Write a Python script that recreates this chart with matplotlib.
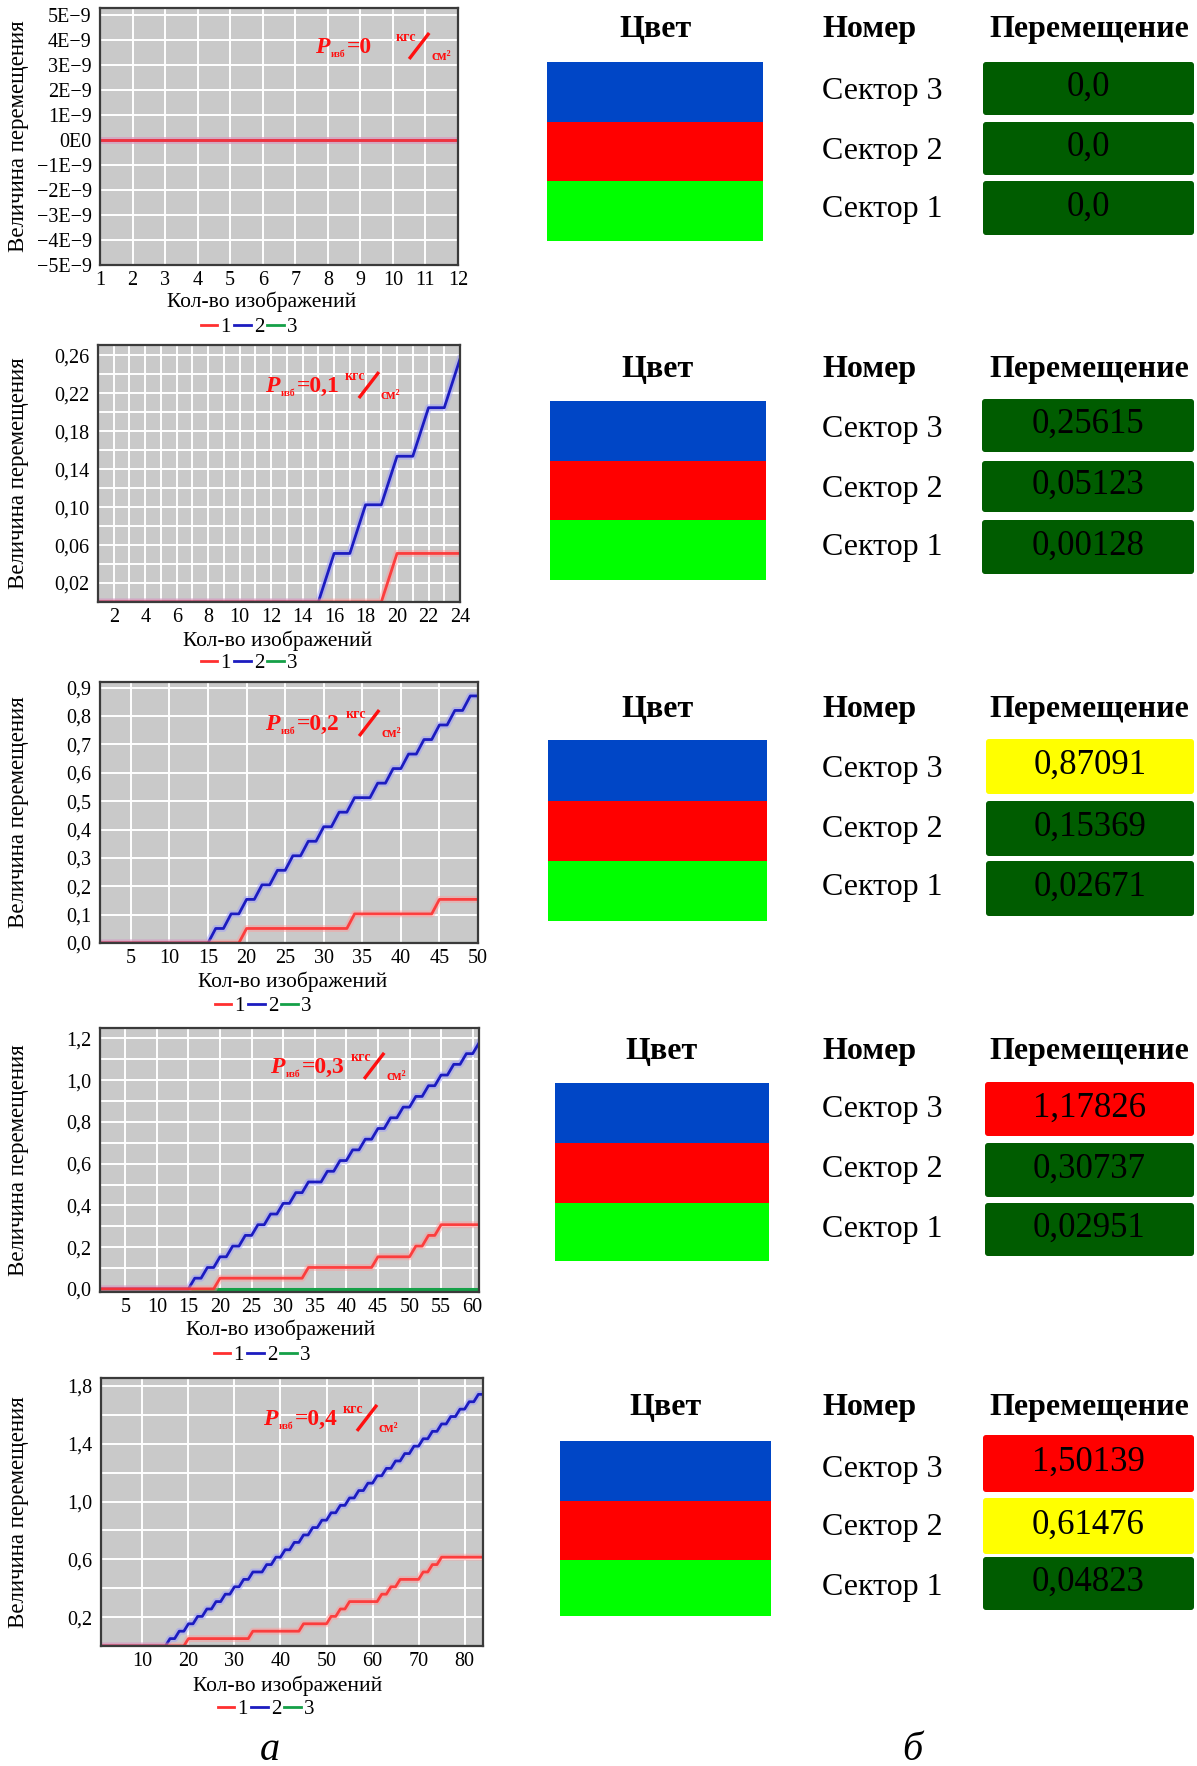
import matplotlib
matplotlib.use("Agg")
import matplotlib.pyplot as plt
import matplotlib.transforms as mtransforms
from matplotlib.lines import Line2D
from matplotlib.patches import Rectangle, FancyBboxPatch
from matplotlib.ticker import FixedLocator

plt.rcParams['font.family'] = ['Liberation Serif', 'DejaVu Serif']

# ---------------------------------------------------------------- data
pressures = ["0", "0,1", "0,2", "0,3", "0,4"]
legend_labels = ["1", "2", "3"]

# P = 0 kgf/cm2, 12 images
red_p0 = [0, 0, 0, 0, 0, 0, 0, 0, 0, 0, 0, 0]
blue_p0 = [0, 0, 0, 0, 0, 0, 0, 0, 0, 0, 0, 0]
green_p0 = [0, 0, 0, 0, 0, 0, 0, 0, 0, 0, 0, 0]

# P = 0.1 kgf/cm2, 24 images
red_p1 = [
    0, 0, 0, 0, 0, 0, 0, 0, 0, 0,
    0, 0, 0, 0, 0, 0, 0, 0, 0, 0.0512,
    0.0512, 0.0512, 0.0512, 0.0512,
]
blue_p1 = [
    0, 0, 0, 0, 0, 0, 0, 0, 0, 0,
    0, 0, 0, 0, 0, 0.0512, 0.0512, 0.1025, 0.1025, 0.1537,
    0.1537, 0.2049, 0.2049, 0.2562,
]
green_p1 = [
    0, 0, 0, 0, 0, 0, 0, 0, 0, 0,
    0, 0, 0, 0, 0, 0, 0, 0, 0, 0,
    0, 0, 0, 0,
]

# P = 0.2 kgf/cm2, 50 images
red_p2 = [
    0, 0, 0, 0, 0, 0, 0, 0, 0, 0,
    0, 0, 0, 0, 0, 0, 0, 0, 0, 0.0512,
    0.0512, 0.0512, 0.0512, 0.0512, 0.0512, 0.0512, 0.0512, 0.0512, 0.0512, 0.0512,
    0.0512, 0.0512, 0.0512, 0.1025, 0.1025, 0.1025, 0.1025, 0.1025, 0.1025, 0.1025,
    0.1025, 0.1025, 0.1025, 0.1025, 0.1537, 0.1537, 0.1537, 0.1537, 0.1537, 0.1537,
]
blue_p2 = [
    0, 0, 0, 0, 0, 0, 0, 0, 0, 0,
    0, 0, 0, 0, 0, 0.0512, 0.0512, 0.1025, 0.1025, 0.1537,
    0.1537, 0.2049, 0.2049, 0.2562, 0.2562, 0.3074, 0.3074, 0.3586, 0.3586, 0.4098,
    0.4098, 0.4611, 0.4611, 0.5123, 0.5123, 0.5123, 0.5635, 0.5635, 0.6148, 0.6148,
    0.6660, 0.6660, 0.7172, 0.7172, 0.7685, 0.7685, 0.8197, 0.8197, 0.8709, 0.8709,
]
green_p2 = [
    0, 0, 0, 0, 0, 0, 0, 0, 0, 0,
    0, 0, 0, 0, 0, 0, 0, 0, 0, 0,
    0, 0, 0, 0, 0, 0, 0, 0, 0, 0,
    0, 0, 0, 0, 0, 0, 0, 0, 0, 0,
    0, 0, 0, 0, 0, 0, 0, 0, 0, 0,
]

# P = 0.3 kgf/cm2, 61 images
red_p3 = [
    0, 0, 0, 0, 0, 0, 0, 0, 0, 0,
    0, 0, 0, 0, 0, 0, 0, 0, 0, 0.0512,
    0.0512, 0.0512, 0.0512, 0.0512, 0.0512, 0.0512, 0.0512, 0.0512, 0.0512, 0.0512,
    0.0512, 0.0512, 0.0512, 0.1025, 0.1025, 0.1025, 0.1025, 0.1025, 0.1025, 0.1025,
    0.1025, 0.1025, 0.1025, 0.1025, 0.1537, 0.1537, 0.1537, 0.1537, 0.1537, 0.1537,
    0.2049, 0.2049, 0.2562, 0.2562, 0.3074, 0.3074, 0.3074, 0.3074, 0.3074, 0.3074,
    0.3074,
]
blue_p3 = [
    0, 0, 0, 0, 0, 0, 0, 0, 0, 0,
    0, 0, 0, 0, 0, 0.0512, 0.0512, 0.1025, 0.1025, 0.1537,
    0.1537, 0.2049, 0.2049, 0.2562, 0.2562, 0.3074, 0.3074, 0.3586, 0.3586, 0.4098,
    0.4098, 0.4611, 0.4611, 0.5123, 0.5123, 0.5123, 0.5635, 0.5635, 0.6148, 0.6148,
    0.6660, 0.6660, 0.7172, 0.7172, 0.7685, 0.7685, 0.8197, 0.8197, 0.8709, 0.8709,
    0.9221, 0.9221, 0.9734, 0.9734, 1.0246, 1.0246, 1.0758, 1.0758, 1.1271, 1.1271,
    1.1783,
]
green_p3 = [
    0, 0, 0, 0, 0, 0, 0, 0, 0, 0,
    0, 0, 0, 0, 0, 0, 0, 0, 0, 0,
    0, 0, 0, 0, 0, 0, 0, 0, 0, 0,
    0, 0, 0, 0, 0, 0, 0, 0, 0, 0,
    0, 0, 0, 0, 0, 0, 0, 0, 0, 0,
    0, 0, 0, 0, 0, 0, 0, 0, 0, 0,
    0,
]

# P = 0.4 kgf/cm2, 84 images
red_p4 = [
    0, 0, 0, 0, 0, 0, 0, 0, 0, 0,
    0, 0, 0, 0, 0, 0, 0, 0, 0, 0.0512,
    0.0512, 0.0512, 0.0512, 0.0512, 0.0512, 0.0512, 0.0512, 0.0512, 0.0512, 0.0512,
    0.0512, 0.0512, 0.0512, 0.1025, 0.1025, 0.1025, 0.1025, 0.1025, 0.1025, 0.1025,
    0.1025, 0.1025, 0.1025, 0.1025, 0.1537, 0.1537, 0.1537, 0.1537, 0.1537, 0.1537,
    0.2049, 0.2049, 0.2562, 0.2562, 0.3074, 0.3074, 0.3074, 0.3074, 0.3074, 0.3074,
    0.3074, 0.3586, 0.3586, 0.4098, 0.4098, 0.4611, 0.4611, 0.4611, 0.4611, 0.4611,
    0.5123, 0.5123, 0.5635, 0.5635, 0.6148, 0.6148, 0.6148, 0.6148, 0.6148, 0.6148,
    0.6148, 0.6148, 0.6148, 0.6148,
]
blue_p4 = [
    0, 0, 0, 0, 0, 0, 0, 0, 0, 0,
    0, 0, 0, 0, 0, 0.0512, 0.0512, 0.1025, 0.1025, 0.1537,
    0.1537, 0.2049, 0.2049, 0.2562, 0.2562, 0.3074, 0.3074, 0.3586, 0.3586, 0.4098,
    0.4098, 0.4611, 0.4611, 0.5123, 0.5123, 0.5123, 0.5635, 0.5635, 0.6148, 0.6148,
    0.6660, 0.6660, 0.7172, 0.7172, 0.7685, 0.7685, 0.8197, 0.8197, 0.8709, 0.8709,
    0.9221, 0.9221, 0.9734, 0.9734, 1.0246, 1.0246, 1.0758, 1.0758, 1.1271, 1.1271,
    1.1783, 1.1783, 1.2295, 1.2295, 1.2808, 1.2808, 1.3320, 1.3320, 1.3832, 1.3832,
    1.4344, 1.4344, 1.4857, 1.4857, 1.5369, 1.5369, 1.5881, 1.5881, 1.6394, 1.6394,
    1.6906, 1.6906, 1.7418, 1.7418,
]
green_p4 = [
    0, 0, 0, 0, 0, 0, 0, 0, 0, 0,
    0, 0, 0, 0, 0, 0, 0, 0, 0, 0,
    0, 0, 0, 0, 0, 0, 0, 0, 0, 0,
    0, 0, 0, 0, 0, 0, 0, 0, 0, 0,
    0, 0, 0, 0, 0, 0, 0, 0, 0, 0,
    0, 0, 0, 0, 0, 0, 0, 0, 0, 0,
    0, 0, 0, 0, 0, 0, 0, 0, 0, 0,
    0, 0, 0, 0, 0, 0, 0, 0, 0, 0,
    0, 0, 0, 0,
]

red_series = [red_p0, red_p1, red_p2, red_p3, red_p4]
blue_series = [blue_p0, blue_p1, blue_p2, blue_p3, blue_p4]
green_series = [green_p0, green_p1, green_p2, green_p3, green_p4]

# axis ticks
x_ticks = [
    [1, 2, 3, 4, 5, 6, 7, 8, 9, 10, 11, 12],
    [2, 4, 6, 8, 10, 12, 14, 16, 18, 20, 22, 24],
    [5, 10, 15, 20, 25, 30, 35, 40, 45, 50],
    [5, 10, 15, 20, 25, 30, 35, 40, 45, 50, 55, 60],
    [10, 20, 30, 40, 50, 60, 70, 80],
]
x_minor = [
    [],
    [1, 3, 5, 7, 9, 11, 13, 15, 17, 19, 21, 23],
    [],
    [],
    [],
]
y_ticks = [
    [-5e-9, -4e-9, -3e-9, -2e-9, -1e-9, 0, 1e-9, 2e-9, 3e-9, 4e-9, 5e-9],
    [0.02, 0.06, 0.10, 0.14, 0.18, 0.22, 0.26],
    [0.0, 0.1, 0.2, 0.3, 0.4, 0.5, 0.6, 0.7, 0.8, 0.9],
    [0.0, 0.2, 0.4, 0.6, 0.8, 1.0, 1.2],
    [0.2, 0.6, 1.0, 1.4, 1.8],
]
y_tick_labels = [
    ["−5E−9", "−4E−9", "−3E−9", "−2E−9", "−1E−9", "0E0",
     "1E−9", "2E−9", "3E−9", "4E−9", "5E−9"],
    ["0,02", "0,06", "0,10", "0,14", "0,18", "0,22", "0,26"],
    ["0,0", "0,1", "0,2", "0,3", "0,4", "0,5", "0,6", "0,7", "0,8", "0,9"],
    ["0,0", "0,2", "0,4", "0,6", "0,8", "1,0", "1,2"],
    ["0,2", "0,6", "1,0", "1,4", "1,8"],
]
y_minor = [
    [],
    [0.04, 0.08, 0.12, 0.16, 0.20, 0.24],
    [],
    [0.1, 0.3, 0.5, 0.7, 0.9, 1.1],
    [0.4, 0.8, 1.2, 1.6],
]

# right-hand tables
sector_names = ["Сектор 3", "Сектор 2", "Сектор 1"]
sector_colors = ["#0046c6", "#ff0000", "#00ff00"]
displacements = [
    ["0,0", "0,0", "0,0"],
    ["0,25615", "0,05123", "0,00128"],
    ["0,87091", "0,15369", "0,02671"],
    ["1,17826", "0,30737", "0,02951"],
    ["1,50139", "0,61476", "0,04823"],
]
states = [
    ["norm", "norm", "norm"],
    ["norm", "norm", "norm"],
    ["warn", "norm", "norm"],
    ["alarm", "norm", "norm"],
    ["alarm", "warn", "norm"],
]
state_colors = {"norm": "#005c00", "warn": "#ffff00", "alarm": "#ff0000"}

# ---------------------------------------------------------------- layout (pixels)
W, H, DPI = 1197, 1766, 100
plot_boxes = [(100, 8, 458, 265), (98, 345, 460, 602), (100, 682, 478, 943),
              (100, 1028, 479, 1292), (101, 1378, 483, 1646)]
x_limits = [(1, 12), (1, 24), (1, 50), (1, 61), (1, 84)]
y_limits = [(-5e-9, 5.27e-9), (0, 0.271), (0, 0.92), (-0.015, 1.25), (0, 1.855)]
note_pos = [(0.601, 0.825), (0.461, 0.817), (0.437, 0.816), (0.449, 0.83), (0.424, 0.825)]
xlabel_pos = [(262, 302), (278, 641), (293, 982), (281, 1330), (288, 1686)]
legend_pos = [(249, 327), (249, 663), (263, 1006), (262, 1355), (266, 1709)]

table_layout = [
    # header y, colour block x0, x1, block edges, label ys, value box x0, value boxes
    (29, 547, 763, [62, 122, 181, 241], [92, 151, 209], 983,
     [(62, 115), (122, 175), (181, 235)]),
    (369, 550, 766, [401, 461, 520, 580], [430, 489, 547], 982,
     [(399, 452), (461, 512), (520, 574)]),
    (709, 548, 767, [740, 801, 861, 921], [770, 829, 887], 986,
     [(739, 794), (801, 856), (861, 916)]),
    (1052, 555, 769, [1083, 1143, 1203, 1261], [1110, 1170, 1229], 985,
     [(1082, 1136), (1143, 1197), (1203, 1256)]),
    (1408, 560, 771, [1441, 1501, 1560, 1616], [1470, 1528, 1587], 983,
     [(1435, 1492), (1498, 1554), (1557, 1610)]),
]

RED, BLUE, GREEN = "#ff3030", "#1c1cc0", "#15a048"
RED_HALO, BLUE_HALO = "#ff9a9a", "#9a9aff"
NOTE_RED = "#ff1010"

fig = plt.figure(figsize=(W / DPI, H / DPI), dpi=DPI)
fig.patch.set_facecolor("white")

# overlay in pixel coordinates for the tables and captions
ov = fig.add_axes([0, 0, 1, 1])
ov.set_xlim(0, W)
ov.set_ylim(H, 0)
ov.axis("off")

for k, (hy, bx0, bx1, bedges, lys, vx0, vboxes) in enumerate(table_layout):
    ov.text((bx0 + bx1) / 2, hy, "Цвет", fontsize=23, fontweight="bold",
            ha="center", va="center")
    ov.text(870, hy, "Номер", fontsize=23, fontweight="bold", ha="center", va="center")
    ov.text(1089, hy, "Перемещение", fontsize=23, fontweight="bold",
            ha="center", va="center")
    vx1 = 1194
    for j in range(3):
        ov.add_patch(Rectangle((bx0, bedges[j]), bx1 - bx0, bedges[j + 1] - bedges[j],
                               facecolor=sector_colors[j], edgecolor="none"))
        ov.text(882, lys[j], sector_names[j], fontsize=23, ha="center", va="center")
        top, bot = vboxes[j]
        ov.add_patch(FancyBboxPatch((vx0, top), vx1 - vx0, bot - top,
                                    boxstyle="round,pad=0,rounding_size=3",
                                    facecolor=state_colors[states[k][j]], edgecolor="none"))
        ov.text((vx0 + vx1) / 2, (top + bot) / 2 - 1, displacements[k][j], fontsize=25,
                ha="center", va="center", color="black")

ov.text(270, 1751, "а", fontsize=29, fontstyle="italic", ha="center", va="center")
ov.text(912, 1751, "б", fontsize=29, fontstyle="italic", ha="center", va="center")


def pressure_note(ax, fx, fy, value, wpx, hpx):
    """Red 'P_изб = value кгс/см²' label, built from pieces offset in pixels."""
    def shift(dx, dy):
        return mtransforms.offset_copy(ax.transAxes, fig=fig, x=dx, y=dy, units="dots")
    kw = dict(color=NOTE_RED, fontweight="bold", va="baseline", ha="left", zorder=6)
    ax.text(fx, fy, "P", fontsize=17, fontstyle="italic", transform=shift(0, 0), **kw)
    ax.text(fx, fy, "изб", fontsize=7, transform=shift(16, -4), **kw)
    ax.text(fx, fy, "=" + value, fontsize=17, transform=shift(32, 0), **kw)
    ax.text(fx, fy, "кгс", fontsize=10, transform=shift(80, 12), **kw)
    ax.plot([fx + 94 / wpx, fx + 114 / wpx], [fy - 6 / hpx, fy + 20 / hpx],
            transform=ax.transAxes, color=NOTE_RED, lw=2.4, solid_capstyle="butt",
            clip_on=False, zorder=6)
    ax.text(fx, fy, "см²", fontsize=10, transform=shift(116, -7), **kw)


for i in range(5):
    left, top, right, bottom = plot_boxes[i]
    wpx, hpx = right - left, bottom - top
    ax = fig.add_axes([left / W, 1 - bottom / H, wpx / W, hpx / H])
    ax.set_facecolor("#c9c9c9")

    n = len(red_series[i])
    images = list(range(1, n + 1))
    ax.plot(images, green_series[i], color=GREEN, lw=2.2, zorder=3)
    ax.plot(images, blue_series[i], color=BLUE_HALO, lw=5, alpha=0.45, zorder=3)
    ax.plot(images, blue_series[i], color=BLUE, lw=2.0, zorder=3)
    ax.plot(images, red_series[i], color=RED_HALO, lw=5, alpha=0.45, zorder=3)
    ax.plot(images, red_series[i], color=RED, lw=2.0, alpha=0.9, zorder=3)

    ax.set_xlim(*x_limits[i])
    ax.set_ylim(*y_limits[i])
    ax.xaxis.set_major_locator(FixedLocator(x_ticks[i]))
    ax.set_xticklabels([str(t) for t in x_ticks[i]])
    ax.xaxis.set_minor_locator(FixedLocator(x_minor[i]))
    ax.yaxis.set_major_locator(FixedLocator(y_ticks[i]))
    ax.set_yticklabels(y_tick_labels[i])
    ax.yaxis.set_minor_locator(FixedLocator(y_minor[i]))
    ax.tick_params(axis="both", which="both", length=0, labelsize=14.5)
    ax.tick_params(axis="x", pad=4)
    ax.tick_params(axis="y", pad=6)
    ax.set_axisbelow(True)
    ax.grid(True, which="both", color="white", lw=1.4)
    for sp in ax.spines.values():
        sp.set_color("#3a3a3a")
        sp.set_linewidth(1.6)
        sp.set_zorder(4)

    pressure_note(ax, note_pos[i][0], note_pos[i][1], pressures[i], wpx, hpx)

    fig.text(19 / W, 1 - (top + bottom) / 2 / H, "Величина перемещения",
             rotation=90, fontsize=16.5, ha="center", va="center")
    fig.text(xlabel_pos[i][0] / W, 1 - xlabel_pos[i][1] / H, "Кол-во изображений",
             fontsize=15.5, ha="center", va="center")
    handles = [Line2D([], [], color=c, lw=2) for c in (RED, BLUE, GREEN)]
    fig.legend(handles, legend_labels, loc="center",
               bbox_to_anchor=(legend_pos[i][0] / W, 1 - legend_pos[i][1] / H),
               ncol=3, frameon=False, handlelength=0.8, handletextpad=0.15,
               columnspacing=0.15, fontsize=15, borderpad=0, borderaxespad=0)

fig.savefig("out.png", dpi=DPI, facecolor="white")
